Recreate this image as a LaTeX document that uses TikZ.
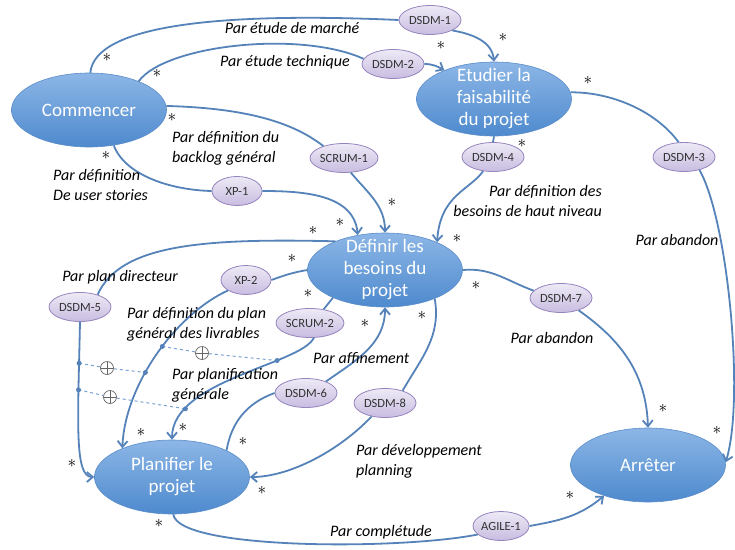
\documentclass[tikz,border=0pt]{standalone}
\usepackage{fontspec}
\setmainfont{Carlito}
\usetikzlibrary{shapes.geometric,arrows.meta}
\definecolor{linkblue}{RGB}{84,130,185}
\definecolor{depblue}{RGB}{120,160,210}
\definecolor{bigtop}{RGB}{140,182,230}
\definecolor{bigbot}{RGB}{78,138,206}
\definecolor{bigedge}{RGB}{90,140,200}
\definecolor{smalltop}{RGB}{238,234,246}
\definecolor{smallbot}{RGB}{200,188,224}
\definecolor{smalledge}{RGB}{150,132,190}

\tikzset{
  bignode/.style={ellipse, draw=bigedge, line width=0.6pt, top color=bigtop, bottom color=bigbot,
    minimum width=155pt, minimum height=74pt, inner xsep=0pt, inner ysep=-14pt, align=center,
    text=white, font=\fontsize{19}{22}\selectfont},
  smallnode/.style={ellipse, draw=smalledge, line width=0.8pt, top color=smalltop, bottom color=smallbot,
    minimum width=62pt, minimum height=29pt, inner sep=0pt, text=black!80, font=\fontsize{12.5}{14}\selectfont},
  link/.style={draw=linkblue, line width=1.8pt},
  linkarrow/.style={link, -{Straight Barb[length=6pt,width=10pt]}},
  lbl/.style={font=\itshape\fontsize{16}{20}\selectfont, inner sep=0pt},
  star/.style={font=\fontsize{17}{17}\selectfont, inner sep=0pt},
  deplink/.style={draw=depblue, dashed, line width=1pt},
  oplus/.style={circle, draw=black!60, fill=white, line width=0.7pt, minimum size=13pt, inner sep=0pt,
    path picture={\draw[black!60, line width=0.7pt]
      (path picture bounding box.north) -- (path picture bounding box.south)
      (path picture bounding box.west) -- (path picture bounding box.east);}}
}

\begin{document}
\begin{tikzpicture}[x=1pt,y=1pt]
\useasboundingbox (0,0) rectangle (735,-549);

% main activities
\node[bignode] (com) at (89,-110) {Commencer};
\node[bignode] (etu) at (494,-99) {Etudier la\\faisabilité\\du projet};
\node[bignode] (def) at (385,-270) {Définir les\\besoins du\\projet};
\node[bignode] (pla) at (172,-477) {Planifier le\\projet};
\node[bignode] (arr) at (648,-465) {Arrêter};

% method fragments
\node[smallnode] (d1) at (430,-20) {DSDM-1};
\node[smallnode] (d2) at (393,-64) {DSDM-2};
\node[smallnode] (d3) at (684,-157) {DSDM-3};
\node[smallnode] (d4) at (493,-157) {DSDM-4};
\node[smallnode, minimum width=68pt] (s1) at (344,-158) {SCRUM-1};
\node[smallnode, minimum width=50pt] (x1) at (237,-191) {XP-1};
\node[smallnode, minimum width=50pt] (x2) at (246,-280) {XP-2};
\node[smallnode, minimum width=66pt] (s2) at (310,-323) {SCRUM-2};
\node[smallnode] (d5) at (80,-307) {DSDM-5};
\node[smallnode] (d6) at (306,-393) {DSDM-6};
\node[smallnode] (d7) at (561,-298) {DSDM-7};
\node[smallnode] (d8) at (385,-403) {DSDM-8};
\node[smallnode, minimum width=56pt] (ag1) at (501,-526) {AGILE-1};

% Commencer -> Etudier
\draw[link] (com.88) .. controls (95,-25) and (220,-12) .. (d1.west);
\draw[linkarrow] (d1.-25) to[out=-10,in=95] (etu.90);
\draw[link] (com.30) .. controls (165,-45) and (300,-30) .. (d2.170);
\draw[linkarrow] (d2.east) to[out=0,in=150] (etu.150);

% Commencer -> Definir
\draw[link] (com.3) .. controls (240,-108) and (290,-120) .. (s1.150);
\draw[linkarrow] (s1.-65) to[out=-50,in=90] (def.90);
\draw[link] (com.-55) .. controls (125,-175) and (170,-190) .. (x1.west);
\draw[linkarrow] (x1.east) to[out=0,in=95] (def.128);

% Etudier -> Definir / Arreter
\draw[link] (etu.south) -- (d4.north);
\draw[linkarrow] (d4.235) .. controls (470,-190) and (440,-195) .. (def.28);
\draw[link] (etu.5) .. controls (610,-92) and (655,-110) .. (d3.110);
\draw[linkarrow] (d3.-40) .. controls (728,-220) and (745,-400) .. (arr.2);

% Definir -> Arreter, Planifier -> Arreter
\draw[link] (def.east) to[out=5,in=160] (d7.165);
\draw[linkarrow] (d7.-35) to[out=-35,in=92] (arr.north);
\draw[link] (pla.-88) .. controls (178,-550) and (400,-550) .. (ag1.200);
\draw[linkarrow] (ag1.east) to[out=10,in=220] (arr.215);

% Definir -> Planifier
\draw[link] (def.150) .. controls (200,-238) and (120,-245) .. (d5.35);
\draw[linkarrow] (d5.south) .. controls (78,-420) and (74,-477) .. (pla.west)
  coordinate[pos=0.15] (e5a) coordinate[pos=0.26] (e5b);
\draw[link] (def.west) to[out=190,in=20] (x2.east);
\draw[linkarrow] (x2.210) .. controls (175,-315) and (125,-385) .. (pla.150)
  coordinate[pos=0.45] (e2a) coordinate[pos=0.6] (e2b);
\draw[link] (def.208) -- (s2.45);
\draw[linkarrow] (s2.285) .. controls (300,-365) and (172,-380) .. (pla.90)
  coordinate[pos=0.3] (e3a) coordinate[pos=0.8] (e3b);
\draw[link] (def.-30) to[out=-80,in=60] (d8.35);
\draw[linkarrow] (d8.225) .. controls (340,-450) and (290,-477) .. (pla.east);

% Planifier -> Definir
\draw[link] (pla.26) to[out=80,in=200] (d6.west);
\draw[linkarrow] (d6.30) to[out=35,in=-90] (def.south);

% dependencies
\node[oplus] (pA) at (202,-353) {};
\node[oplus] (pB) at (107,-368) {};
\node[oplus] (pC) at (110,-397) {};
\draw[deplink] (e2a) -- (pA) -- (e3a);
\draw[deplink] (e5a) -- (pB) -- (e2b);
\draw[deplink] (e5b) -- (pC) -- (e3b);
\foreach \c in {e2a,e3a,e5a,e2b,e5b,e3b}
  \fill[linkblue] (\c) circle (2.5pt);

% cardinalities
\foreach \x/\y [count=\i] in {107/57, 157/73, 503/37, 441/45, 172/117, 392/202, 106/155, 340/222,
    522/143, 457/238, 588/80, 717/430, 476/285, 663/408, 159/523, 570/495, 313/230, 72/463,
    292/258, 141/432, 308/293, 183/427, 243/441, 365/323, 422/315, 262/490}
  \node[star] (st\i) at (\x,-\y) {$\ast$};

% labels
\node[lbl] (lmar) at (292,-28) {Par étude de marché};
\node[lbl] (ltec) at (285,-62) {Par étude technique};
\node[lbl, align=left, anchor=west] (lbac) at (172,-148) {Par définition du\\backlog général};
\node[lbl, align=left, anchor=west] (lust) at (53,-185) {Par définition\\De user stories};
\node[lbl, align=right, anchor=east] (lhau) at (602,-201) {Par définition des\\besoins de haut niveau};
\node[lbl] (lab1) at (677,-240) {Par abandon};
\node[lbl] (lab2) at (552,-338) {Par abandon};
\node[lbl] (ldir) at (120,-277) {Par plan directeur};
\node[lbl, align=left, anchor=west] (lliv) at (127,-324) {Par définition du plan\\général des livrables};
\node[lbl, align=left, anchor=west] (lgen) at (172,-385) {Par planification\\générale};
\node[lbl, anchor=west] (laff) at (313,-358) {Par affinement};
\node[lbl, align=left, anchor=west] (ldev) at (356,-461) {Par développement\\planning};
\node[lbl] (lcom) at (381,-532) {Par complétude};
\end{tikzpicture}
\end{document}
